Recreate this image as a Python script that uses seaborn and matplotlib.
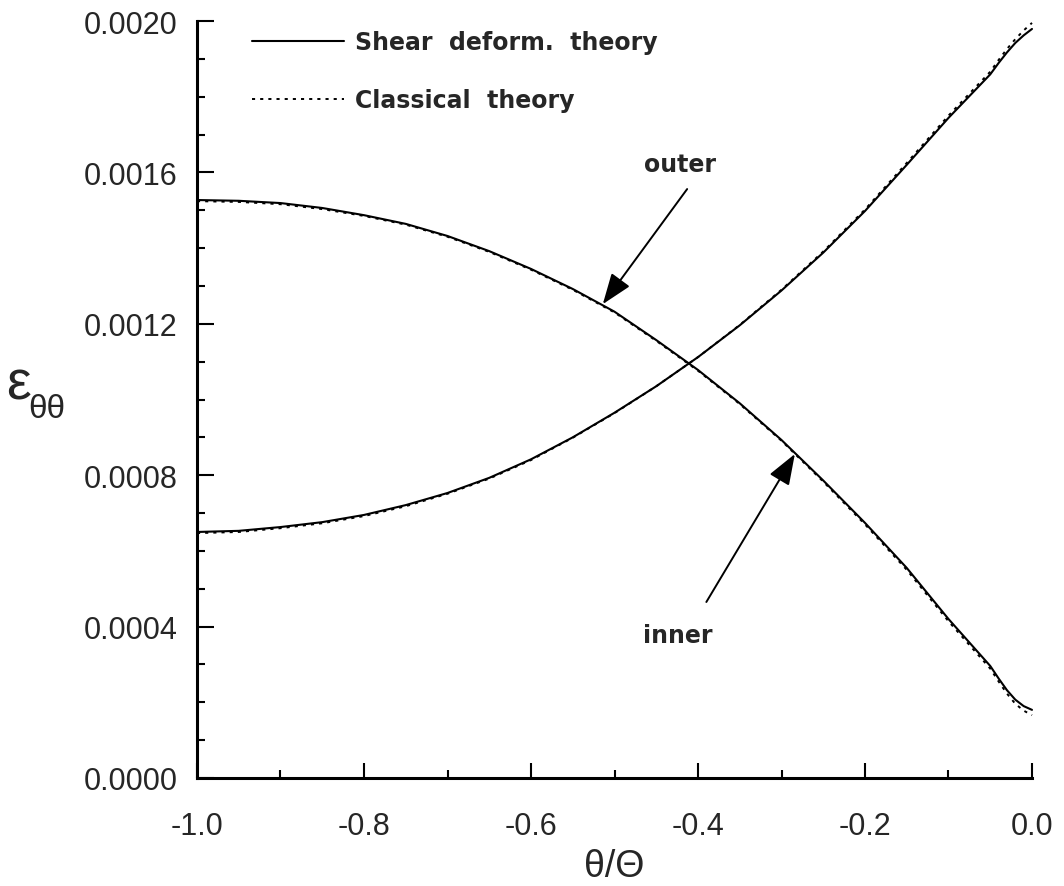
import numpy as np
import pandas as pd
import matplotlib
matplotlib.use("Agg")
import matplotlib.pyplot as plt
import seaborn as sns
from matplotlib.lines import Line2D
from matplotlib.ticker import MultipleLocator, FormatStrFormatter

# ---- data ----
x_vals = [-1.0, -0.95, -0.9, -0.85, -0.8, -0.75, -0.7, -0.65, -0.6, -0.55, -0.5,
          -0.45, -0.4, -0.35, -0.3, -0.25, -0.2, -0.15, -0.1, -0.05, -0.04, -0.03,
          -0.02, -0.01, 0.0]

outer_shear = [0.001527, 0.001525, 0.001519, 0.001506, 0.001487, 0.001464, 0.001432,
               0.001392, 0.001345, 0.001292, 0.001232, 0.001157, 0.001078, 0.000990,
               0.000893, 0.000786, 0.000674, 0.000555, 0.000420, 0.000296, 0.000263,
               0.000232, 0.000207, 0.000190, 0.000180]
outer_classical = [0.001524, 0.001522, 0.001516, 0.001503, 0.001485, 0.001462, 0.001430,
                   0.001390, 0.001343, 0.001290, 0.001230, 0.001155, 0.001076, 0.000988,
                   0.000891, 0.000783, 0.000670, 0.000550, 0.000414, 0.000289, 0.000255,
                   0.000223, 0.000196, 0.000178, 0.000166]

inner_shear = [0.000650, 0.000653, 0.000663, 0.000676, 0.000695, 0.000721, 0.000753,
               0.000793, 0.000842, 0.000900, 0.000965, 0.001035, 0.001112, 0.001196,
               0.001288, 0.001388, 0.001498, 0.001620, 0.001744, 0.001859, 0.001889,
               0.001917, 0.001942, 0.001962, 0.001979]
inner_classical = [0.000647, 0.000650, 0.000660, 0.000673, 0.000692, 0.000718, 0.000751,
                   0.000791, 0.000840, 0.000899, 0.000964, 0.001035, 0.001112, 0.001197,
                   0.001290, 0.001391, 0.001502, 0.001625, 0.001750, 0.001866, 0.001897,
                   0.001926, 0.001952, 0.001975, 0.001995]

x_ticks = [-1.0, -0.8, -0.6, -0.4, -0.2, 0.0]
y_ticks = [0.0, 0.0004, 0.0008, 0.0012, 0.0016, 0.0020]

sns.set_style("ticks")
plt.rcParams["font.family"] = ["Liberation Sans", "DejaVu Sans"]
plt.rcParams["axes.unicode_minus"] = False

fig = plt.figure(figsize=(10.64, 8.87), dpi=100)
ax = fig.add_axes([197/1064, 1-779/887, (1032-197)/1064, (779-22)/887])

solid_kw = dict(color="black", linewidth=1.5)
dot_kw = dict(color="black", linewidth=1.4, linestyle=(0, (1.6, 2.6)))

sns.lineplot(x=x_vals, y=outer_shear, ax=ax, **solid_kw)
sns.lineplot(x=x_vals, y=inner_shear, ax=ax, **solid_kw)
sns.lineplot(x=x_vals, y=outer_classical, ax=ax, **dot_kw)
sns.lineplot(x=x_vals, y=inner_classical, ax=ax, **dot_kw)
for ln in ax.lines:
    ln.set_clip_on(False)
    ln.set_solid_joinstyle("round")

ax.set_xlim(-1.0, 0.0)
ax.set_ylim(0.0, 0.002)
ax.set_xticks(x_ticks)
ax.set_yticks(y_ticks)
ax.xaxis.set_minor_locator(MultipleLocator(0.1))
ax.yaxis.set_minor_locator(MultipleLocator(0.0001))
ax.xaxis.set_major_formatter(FormatStrFormatter("%.1f"))
ax.yaxis.set_major_formatter(FormatStrFormatter("%.4f"))

sns.despine(ax=ax)
for s in ["left", "bottom"]:
    ax.spines[s].set_linewidth(2.2)
    ax.spines[s].set_color("black")
ax.tick_params(axis="both", which="both", direction="in", color="black", width=1.5)
ax.tick_params(axis="y", which="major", length=12, pad=14, labelsize=22)
ax.tick_params(axis="y", which="minor", length=6)
ax.tick_params(axis="x", which="major", length=11, pad=24, labelsize=22)
ax.tick_params(axis="x", which="minor", length=6)

ax.set_xlabel("θ/Θ", fontsize=27, labelpad=5)
ax.set_ylabel("")
fig.text(6/1064, 1-385/887, "ε", fontsize=40, ha="left", va="center")
fig.text(28/1064, 1-410/887, "θθ", fontsize=24, ha="left", va="center")

bold = {"family": "DejaVu Sans", "weight": "bold", "size": 17}
handles = [Line2D([], [], **solid_kw), Line2D([], [], **dot_kw)]
ax.legend(handles, ["Shear  deform.  theory", "Classical  theory"],
          loc="upper left", bbox_to_anchor=(0.066, 0.988), frameon=False,
          prop=bold, handlelength=3.9, handletextpad=0.45, labelspacing=1.45,
          borderaxespad=0, borderpad=0)

arrow_kw = dict(arrowstyle="-|>,head_length=1.9,head_width=0.7", color="black",
                lw=1.4, shrinkA=0, shrinkB=0, mutation_scale=10)
ax.annotate("", xy=(-0.514, 0.001252), xytext=(-0.413, 0.001556), arrowprops=arrow_kw)
ax.text(-0.4216, 0.001622, "outer", fontdict=bold, ha="center", va="center")
ax.annotate("", xy=(-0.284, 0.000856), xytext=(-0.390, 0.000465), arrowprops=arrow_kw)
ax.text(-0.424, 0.000378, "inner", fontdict=bold, ha="center", va="center")

fig.savefig("out.png", dpi=100)
